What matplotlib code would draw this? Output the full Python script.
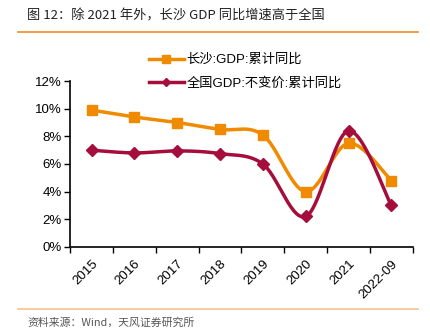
import numpy as np
import matplotlib.pyplot as plt

plt.rcParams['font.family'] = ['Liberation Sans', 'Noto Sans CJK SC', 'DejaVu Sans']

years = ["2015", "2016", "2017", "2018", "2019", "2020", "2021", "2022-09"]
changsha = [9.9, 9.4, 9.0, 8.5, 8.1, 4.0, 7.5, 4.8]
national = [7.0, 6.8, 6.95, 6.75, 6.0, 2.2, 8.4, 3.0]

ORANGE = "#F08A00"
RED = "#A50D3C"


def smooth(x, y, n=30):
    # Catmull-Rom style bezier through the points (like Excel's smoothed line)
    x = np.asarray(x, float)
    y = np.asarray(y, float)
    px = np.concatenate([[x[0]], x, [x[-1]]])
    py = np.concatenate([[y[0]], y, [y[-1]]])
    xs, ys = [], []
    t = np.linspace(0, 1, n)
    for i in range(1, len(px) - 2):
        p0 = np.array([px[i], py[i]])
        p3 = np.array([px[i + 1], py[i + 1]])
        p1 = p0 + (np.array([px[i + 1], py[i + 1]]) - np.array([px[i - 1], py[i - 1]])) / 6
        p2 = p3 - (np.array([px[i + 2], py[i + 2]]) - np.array([px[i], py[i]])) / 6
        b = ((1 - t) ** 3)[:, None] * p0 + (3 * (1 - t) ** 2 * t)[:, None] * p1 \
            + (3 * (1 - t) * t ** 2)[:, None] * p2 + (t ** 3)[:, None] * p3
        xs.extend(b[:, 0])
        ys.extend(b[:, 1])
    return np.array(xs), np.array(ys)


def main():
    fig = plt.figure(figsize=(4.3, 3.35), dpi=100)
    ax = fig.add_axes([0.163, 0.263, 0.797, 0.495])

    x = np.arange(len(years))
    for vals, col, mk, ms, lab in [(changsha, ORANGE, "s", 7, "长沙:GDP:累计同比"),
                                   (national, RED, "D", 6, "全国GDP:不变价:累计同比")]:
        sx, sy = smooth(x, vals)
        ax.plot(sx, sy, color=col, lw=2.5, zorder=2)
        ax.plot(x, vals, ls="none", marker=mk, ms=ms, color=col, zorder=3)
        ax.plot([], [], color=col, lw=2.5, marker=mk, ms=ms * 0.75, label=lab)

    ax.set_xlim(-0.5, len(years) - 0.5)
    ax.set_ylim(0, 12)
    ax.set_yticks(np.arange(0, 13, 2))
    ax.set_yticklabels([f"{v}%" for v in range(0, 13, 2)], fontsize=9.5)
    ax.set_xticks(x)
    ax.set_xticklabels(years, fontsize=9.5, rotation=45, ha="right", rotation_mode="anchor")
    ax.set_xticks(np.arange(-0.5, len(years)), minor=True)
    ax.tick_params(axis="x", which="major", length=0, pad=8)
    ax.tick_params(axis="x", which="minor", length=4, direction="out", width=1)
    ax.tick_params(axis="y", length=4, width=1, pad=2)
    for s in ["top", "right"]:
        ax.spines[s].set_visible(False)
    for s in ["left", "bottom"]:
        ax.spines[s].set_linewidth(1.2)

    ax.legend(loc="upper left", bbox_to_anchor=(0.335, 0.855), bbox_transform=fig.transFigure,
              frameon=False, fontsize=9.5, handlelength=2.6, handletextpad=0.2,
              labelspacing=0.8, borderaxespad=0)

    fig.text(0.063, 0.952, "图 12：除 2021 年外，长沙 GDP 同比增速高于全国",
             fontsize=9.5, color="#222222", va="center",
             family=["Noto Sans CJK SC", "DejaVu Sans"])
    fig.add_artist(plt.Line2D([0.042, 0.972], [0.904, 0.904], color="#F08A24", lw=1.2))
    fig.add_artist(plt.Line2D([0.042, 0.972], [0.078, 0.078], color="#F9C18F", lw=1.2))
    fig.text(0.063, 0.038, "资料来源：Wind，天风证券研究所", fontsize=7.8, color="#555555",
             va="center", family=["Noto Sans CJK SC", "DejaVu Sans"])

    fig.savefig("out.png", dpi=100)
    plt.close(fig)


if __name__ == "__main__":
    main()
